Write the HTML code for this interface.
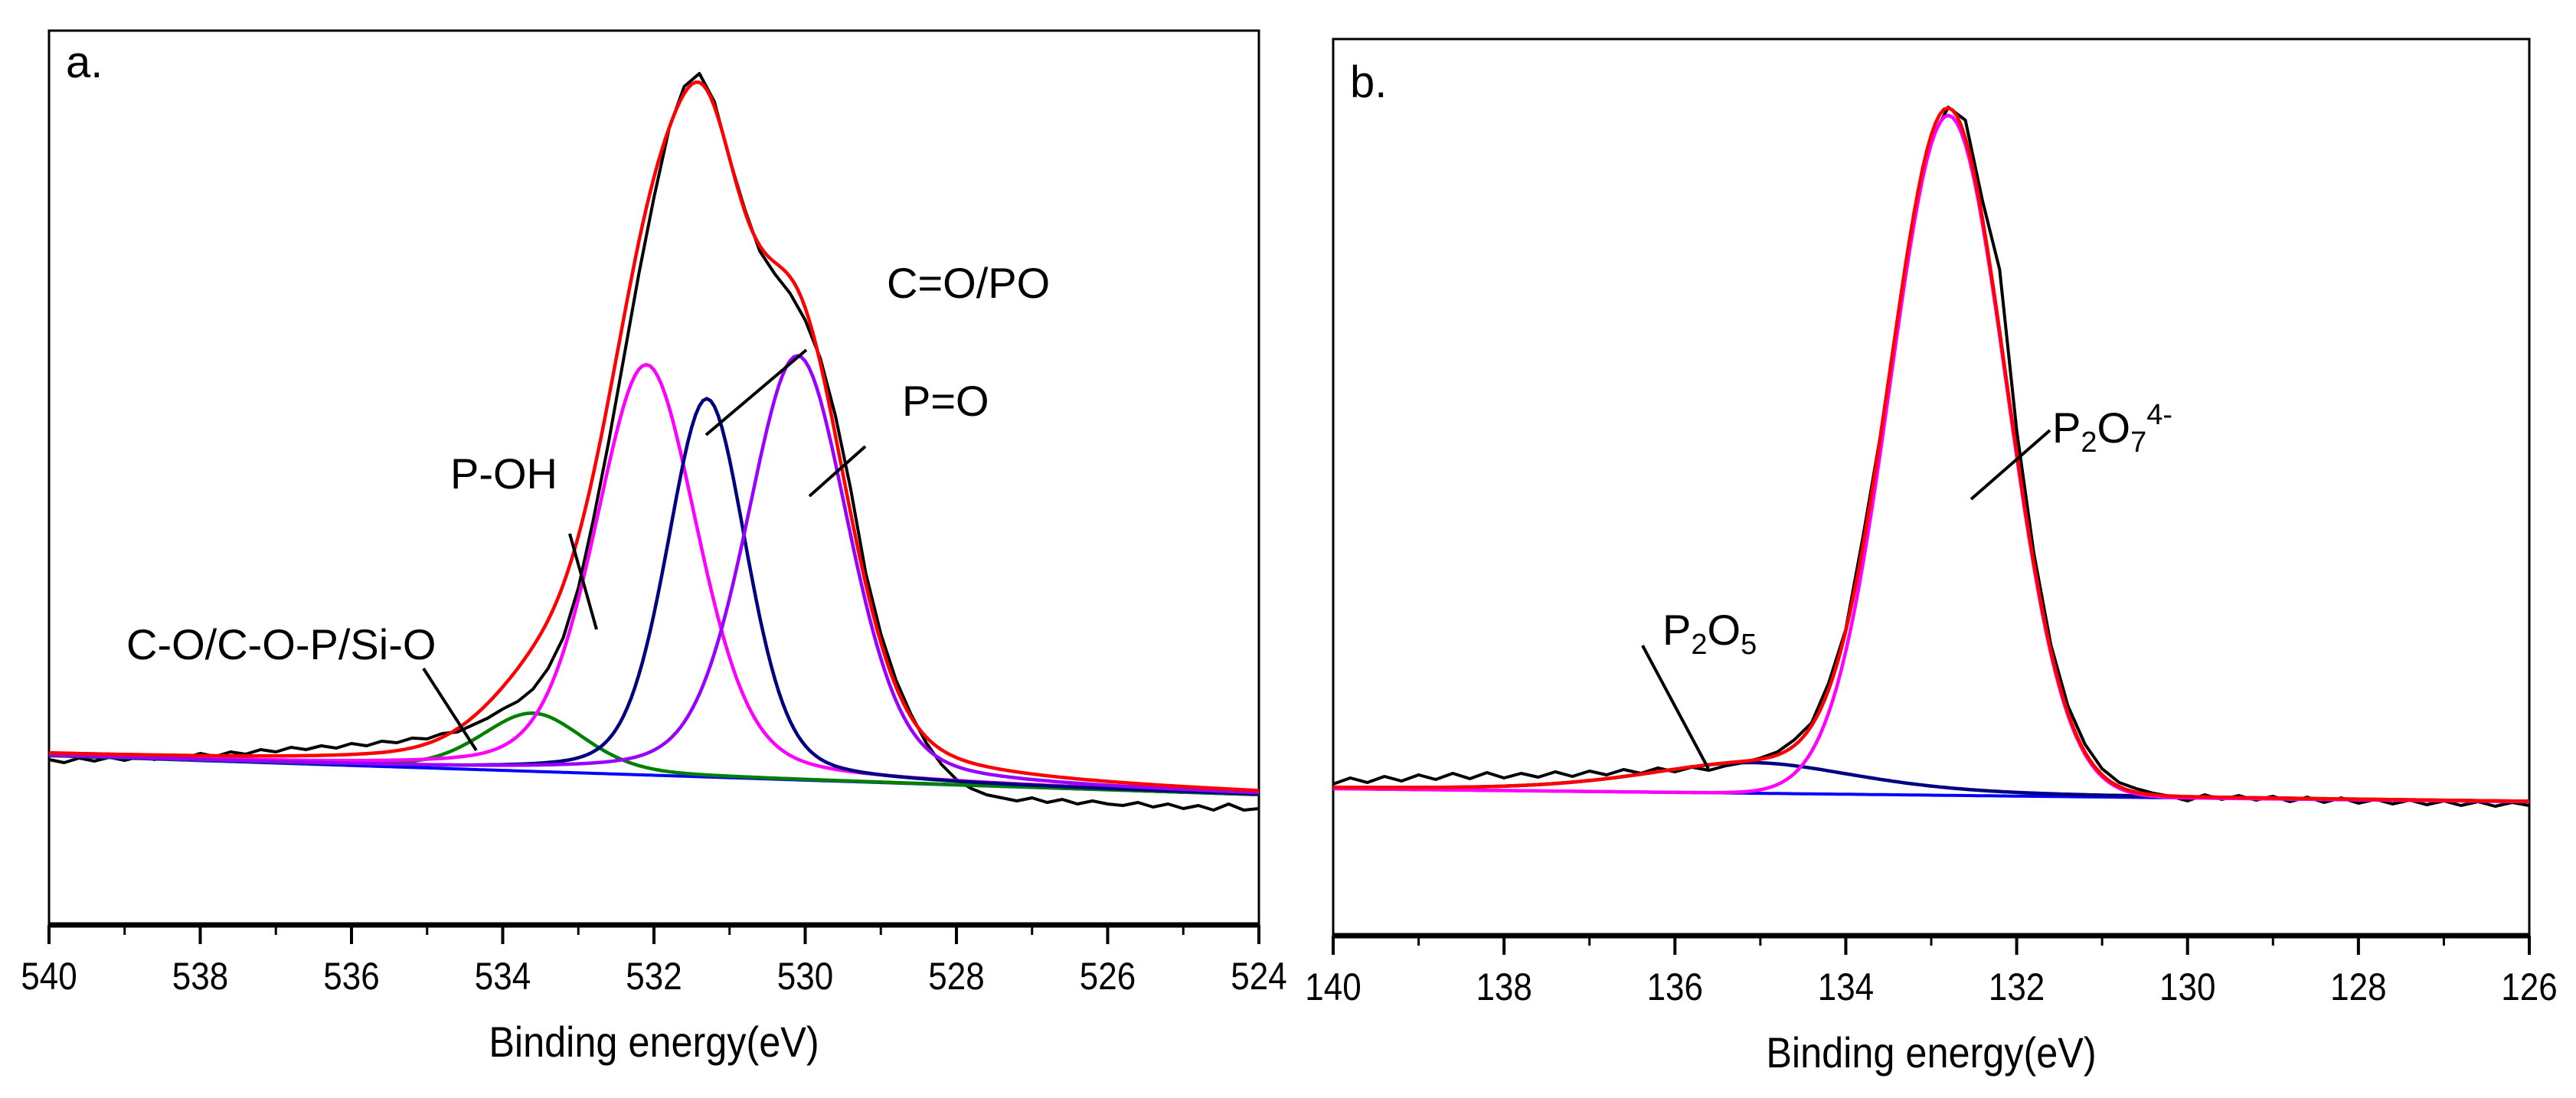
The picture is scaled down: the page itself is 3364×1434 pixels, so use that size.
<!DOCTYPE html>
<html><head><meta charset="utf-8"><style>
html,body{margin:0;padding:0;background:#fff;width:3364px;height:1434px;overflow:hidden}
svg{display:block}
text{font-family:"Liberation Sans",Arial,sans-serif}
</style></head><body>
<svg id="fig" width="3364" height="1434" viewBox="0 0 3364 1434" xmlns="http://www.w3.org/2000/svg"></svg>
<script>
// ---------- Panel a data (O 1s) ----------
const aTicks = [540,538,536,534,532,530,528,526,524];
const aEnergies = [540,539.8,539.6,539.4,539.2,539,538.8,538.6,538.4,538.2,538,537.8,537.6,537.4,537.2,537,536.8,536.6,536.4,536.2,536,535.8,535.6,535.4,535.2,535,534.8,534.6,534.4,534.2,534,533.8,533.6,533.4,533.2,533,532.8,532.6,532.4,532.2,532,531.8,531.6,531.4,531.2,531,530.8,530.6,530.4,530.2,530,529.8,529.6,529.4,529.2,529,528.8,528.6,528.4,528.2,528,527.8,527.6,527.4,527.2,527,526.8,526.6,526.4,526.2,526,525.8,525.6,525.4,525.2,525,524.8,524.6,524.4,524.2,524];
const aCounts = [216,212,218,214,219,215,220,216,222,218,224,220,226,223,229,226,232,229,234,231,237,234,240,238,244,243,250,252,261,270,282,292,308,335,375,440,530,630,740,850,950,1040,1095,1112,1075,1000,935,880,850,825,790,740,665,570,460,380,320,275,238,210,190,178,170,166,162,166,160,164,158,162,158,156,160,154,158,152,156,150,158,150,152];
const aBgEnds = [221,170];
const aPeakNames = ["C-O/C-O-P/Si-O","P-OH","C=O/PO","P=O"];
const aCenters = [533.6,532.1,531.3,530.1];
const aHeights = [76,536,494,554];
const aWidths = [1.6,1.6,1.25,1.6];
const aLorentz = [0.3,0.3,0.3,0.3];
const aColors = ["#008000","#ff00ff","#000080","#9900ff"];

// ---------- Panel b data (P 2p) ----------
const bTicks = [140,138,136,134,132,130,128,126];
const bEnergies = [140,139.8,139.6,139.4,139.2,139,138.8,138.6,138.4,138.2,138,137.8,137.6,137.4,137.2,137,136.8,136.6,136.4,136.2,136,135.8,135.6,135.4,135.2,135,134.8,134.6,134.4,134.2,134,133.8,133.6,133.4,133.2,133,132.8,132.6,132.4,132.2,132,131.8,131.6,131.4,131.2,131,130.8,130.6,130.4,130.2,130,129.8,129.6,129.4,129.2,129,128.8,128.6,128.4,128.2,128,127.8,127.6,127.4,127.2,127,126.8,126.6,126.4,126.2,126];
const bCounts = [198,206,200,208,202,210,204,212,205,213,206,212,207,214,208,215,210,217,212,219,214,220,216,222,226,232,240,256,278,330,400,520,650,800,945,1040,1082,1065,960,870,660,500,380,300,250,218,200,192,186,182,176,184,178,183,177,182,175,181,174,180,173,178,172,177,171,176,170,175,169,174,170];
const bBgEnds = [192,175];
const bPeakNames = ["P2O5","P2O7"];
const bCenters = [135.1,132.8];
const bHeights = [40,888];
const bWidths = [3.0,1.6];
const bLorentz = [0.5,0.0];
const bColors = ["#000080","#ff00ff"];

const NS="http://www.w3.org/2000/svg";
const svg=document.getElementById('fig');
function mk(tag,attrs,parent){const e=document.createElementNS(NS,tag);for(const k in attrs)e.setAttribute(k,attrs[k]);(parent||svg).appendChild(e);return e;}

function profile(d,w,lf){const r=d/w;return (1-lf)*Math.exp(-2.7726*r*r)+lf/(1+4*r*r);}

function makePanel(p){
  const g=mk('g',{});
  
  
  const xS=e=>p.x0+(p.e0-e)/(p.e0-p.e1)*(p.x1-p.x0);
  const yS=v=>p.yb-v;
  const bg=e=>p.bg[0]+(p.e0-e)/(p.e0-p.e1)*(p.bg[1]-p.bg[0]);
  const fr=mk('rect',{x:p.x0,y:p.yt,width:p.x1-p.x0,height:p.yb-p.yt,fill:'none',stroke:'#000','stroke-width':3},g);
  
  
  const ax=mk('line',{x1:p.x0-1,x2:p.x1+1,y1:p.yb,y2:p.yb,stroke:'#000','stroke-width':7},g);
  
  
  for(let i=0;i<p.ticks.length;i++){
    const t=p.ticks[i];const x=xS(t);
    const tk=mk('line',{x1:x,x2:x,y1:p.yb,y2:p.yb+25,stroke:'#000','stroke-width':4},g);
    
    
    const lb=mk('text',{x:0,y:0,'font-size':50,'text-anchor':'middle',fill:'#000',transform:'translate('+x+','+(p.yb+84)+') scale(0.88,1)'},g);
    lb.textContent=t;
    
    
    if(i<p.ticks.length-1){
      const xm=xS(t-1);
      const mt=mk('line',{x1:xm,x2:xm,y1:p.yb,y2:p.yb+13,stroke:'#000','stroke-width':3},g);
      
      
    }
  }
  const tt=mk('text',{x:0,y:0,'font-size':56,'text-anchor':'middle',fill:'#000',transform:'translate('+((p.x0+p.x1)/2)+','+(p.yb+172)+') scale(0.9,1)'},g);
  tt.textContent='Binding energy(eV)';
  
  
  const pl=mk('text',{x:p.x0+22,y:p.yt+(p.name==='panel-a'?61:76),'font-size':58,fill:'#000'},g);
  pl.textContent=p.label;
  
  
  const N=Math.round((p.e0-p.e1)/0.05);
  const es=[];for(let i=0;i<=N;i++)es.push(p.e0-i*0.05);
  const path=(f)=>es.map((e,i)=>(i?'L':'M')+xS(e).toFixed(1)+','+yS(f(e)).toFixed(1)).join('');
  const dp=p.en.map((e,i)=>(i?'L':'M')+xS(e).toFixed(1)+','+yS(p.counts[i]).toFixed(1)).join('');
  const dl=mk('path',{d:dp,fill:'none',stroke:'#000','stroke-width':4,'stroke-linejoin':'round'},g);
  
  
  const bl=mk('path',{d:path(bg),fill:'none',stroke:'#0000ff','stroke-width':4},g);
  
  
  for(let k=0;k<p.cen.length;k++){
    const c=mk('path',{d:path(e=>bg(e)+p.h[k]*profile(e-p.cen[k],p.w[k],p.lf[k])),fill:'none',stroke:p.col[k],'stroke-width':4.5},g);
    
    
  }
  const env=mk('path',{d:path(e=>{let s=bg(e);for(let k=0;k<p.cen.length;k++)s+=p.h[k]*profile(e-p.cen[k],p.w[k],p.lf[k]);return s;}),fill:'none',stroke:'#ff0000','stroke-width':4.5},g);
  
  
  return g;
}

makePanel({name:'panel-a',label:'a.',x0:64,x1:1644,yt:40,yb:1208,e0:540,e1:524,ticks:aTicks,en:aEnergies,counts:aCounts,bg:aBgEnds,cen:aCenters,h:aHeights,w:aWidths,lf:aLorentz,col:aColors,names:aPeakNames});
makePanel({name:'panel-b',label:'b.',x0:1741,x1:3303,yt:51,yb:1222,e0:140,e1:126,ticks:bTicks,en:bEnergies,counts:bCounts,bg:bBgEnds,cen:bCenters,h:bHeights,w:bWidths,lf:bLorentz,col:bColors,names:bPeakNames});

function ann(name,txt,x,y,lx1,ly1,lx2,ly2){
  const l=mk('line',{x1:lx1,y1:ly1,x2:lx2,y2:ly2,stroke:'#000','stroke-width':4});
  
  
  const t=mk('text',{x:x,y:y,'font-size':56,fill:'#000'});
  t.innerHTML=txt;
  
  
}
ann('c-o-peak','C-O/C-O-P/Si-O',165,861,553,873,622,980);
ann('p-oh-peak','P-OH',588,638,744,697,779,822);
ann('c-o-po-peak','C=O/PO',1158,389,922,568,1053,457);
ann('p-o-peak','P=O',1178,543,1057,648,1130,583);
ann('p2o5-peak','P<tspan font-size="38" dy="12">2</tspan><tspan dy="-12">O</tspan><tspan font-size="38" dy="12">5</tspan>',2171,842,2145,843,2231,1004);
ann('p2o7-peak','P<tspan font-size="38" dy="12">2</tspan><tspan dy="-12">O</tspan><tspan font-size="38" dy="12">7</tspan><tspan font-size="38" dy="-36">4-</tspan>',2680,578,2574,652,2677,562);
</script>
</body></html>
